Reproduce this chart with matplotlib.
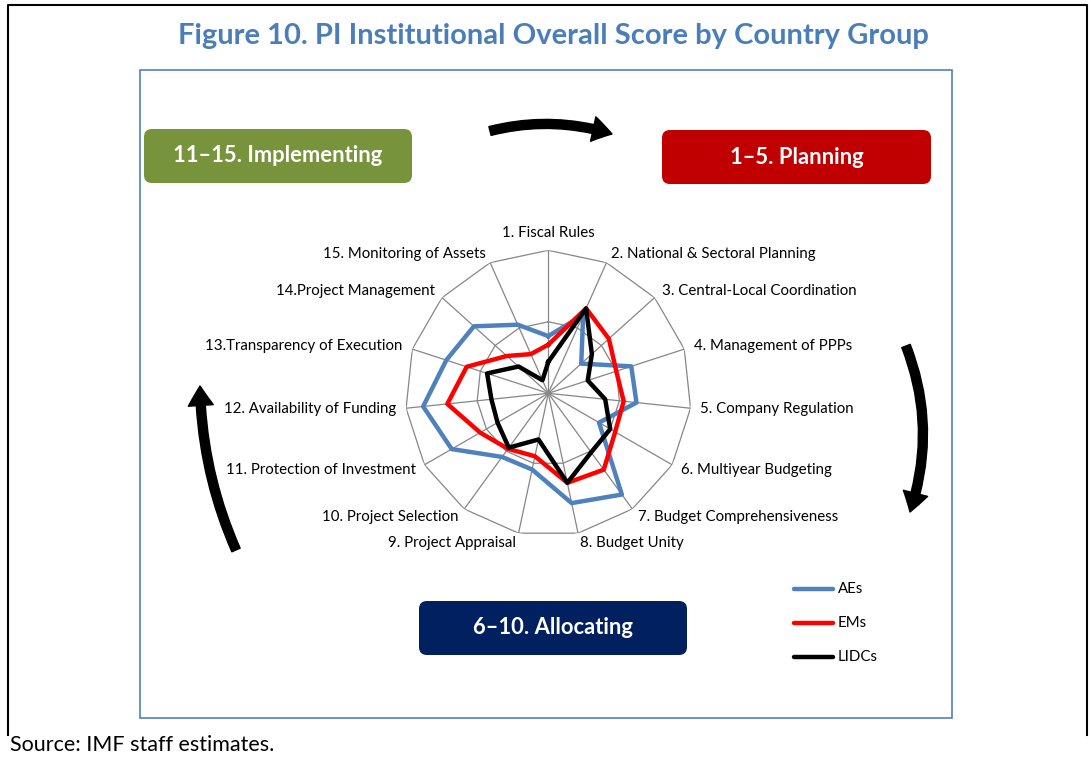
import numpy as np
import matplotlib
matplotlib.use("Agg")
import matplotlib.pyplot as plt
from matplotlib.patches import FancyBboxPatch, FancyArrowPatch

plt.rcParams['font.family'] = ['Lato', 'DejaVu Sans']

# ---- data (0..1 scale) ----
categories = [
    "1. Fiscal Rules", "2. National & Sectoral Planning", "3. Central-Local Coordination",
    "4. Management of PPPs", "5. Company Regulation", "6. Multiyear Budgeting",
    "7. Budget Comprehensiveness", "8. Budget Unity", "9. Project Appraisal",
    "10. Project Selection", "11. Protection of Investment", "12. Availability of Funding",
    "13.Transparency of Execution", "14.Project Management", "15. Monitoring of Assets",
]
aes = [0.40, 0.60, 0.31, 0.61, 0.62, 0.41, 0.875, 0.785, 0.545, 0.55, 0.78, 0.88, 0.75, 0.70, 0.525]
ems = [0.34, 0.65, 0.57, 0.50, 0.53, 0.54, 0.66, 0.64, 0.45, 0.48, 0.55, 0.71, 0.60, 0.39, 0.30]
lidcs = [0.22, 0.65, 0.41, 0.29, 0.40, 0.50, 0.51, 0.64, 0.33, 0.47, 0.41, 0.40, 0.45, 0.28, 0.10]
series_names = ["AEs", "EMs", "LIDCs"]
series_colors = ["#4f81bd", "#ff0000", "#000000"]
grid_levels = [0.5, 1.0]

stage_labels = ["11\u201315. Implementing", "1\u20135. Planning", "6\u201310. Allocating"]
stage_colors = ["#77933c", "#c00000", "#002060"]

W, H = 1091, 758
fig = plt.figure(figsize=(W / 100, H / 100), dpi=100)

# background axes in pixel coordinates
bg = fig.add_axes([0, 0, 1, 1])
bg.set_xlim(0, W)
bg.set_ylim(H, 0)
bg.axis("off")

# outer black frame (open at bottom) and inner blue frame
bg.plot([8, 8, 1087, 1087], [735, 5, 5, 735], color="black", lw=1.5)
bg.add_patch(plt.Rectangle((140, 70), 812, 648, fill=False, ec="#4f81bd", lw=1.2))

bg.text(553, 36, "Figure 10. PI Institutional Overall Score by Country Group",
        ha="center", va="center", fontsize=21, fontweight="bold", color="#4a7ebb")
bg.text(10, 745, "Source: IMF staff estimates.", ha="left", va="center", fontsize=15.5)

# stage boxes
boxes = [(144, 129, 268, 54), (662, 130, 269, 54), (419, 601, 268, 54)]
for (x, y, w, h), lab, col in zip(boxes, stage_labels, stage_colors):
    bg.add_patch(FancyBboxPatch((x, y), w, h, boxstyle="round,pad=0,rounding_size=8",
                                fc=col, ec="none"))
    bg.text(x + w / 2, y + h / 2, lab, ha="center", va="center", color="white",
            fontsize=15.8, fontweight="bold")

# curved arrows
astyle = "simple,head_length=14,head_width=18,tail_width=6.5"
for a, b, rad in [((490, 131), (612, 134), -0.14),
                  ((906, 346), (910, 512), -0.18),
                  ((236, 550), (200, 386), -0.1)]:
    bg.add_patch(FancyArrowPatch(a, b, connectionstyle=f"arc3,rad={rad}", arrowstyle=astyle,
                                 mutation_scale=1, color="black", shrinkA=0, shrinkB=0))

# radar axes
cx, cy, R = 548.3, 393.3, 143.0
ax = fig.add_axes([(cx - R) / W, (H - cy - R) / H, 2 * R / W, 2 * R / H], projection="polar")
ax.set_theta_offset(np.pi / 2)
ax.set_theta_direction(-1)
ax.set_ylim(0, 1)
ax.grid(False)
ax.spines["polar"].set_visible(False)
ax.set_xticks([])
ax.set_yticks([])
ax.patch.set_alpha(0)

n = len(categories)
theta = np.arange(n) * 2 * np.pi / n
theta_c = np.append(theta, theta[0])
for lev in grid_levels:
    ax.plot(theta_c, [lev] * (n + 1), color="#868686", lw=0.9)
for t in theta:
    ax.plot([t, t], [0, 1], color="#868686", lw=0.9)

for vals, name, col in zip([aes, ems, lidcs], series_names, series_colors):
    ax.plot(theta_c, vals + vals[:1], color=col, lw=3.2, label=name)

for t, lab in zip(theta, categories):
    s, c = np.sin(t), np.cos(t)
    off = 7.2
    if abs(s) < 0.01:
        ha, va = "center", "bottom"
    else:
        ha = "left" if s > 0 else "right"
        va = "center"
    ax.annotate(lab, xy=(t, 1.0), xytext=(off * s, off * c), textcoords="offset points",
                ha=ha, va=va, fontsize=10.8, annotation_clip=False)

# legend
for i, (name, col) in enumerate(zip(series_names, series_colors)):
    y = 589 + i * 34
    bg.plot([794, 833], [y, y], color=col, lw=3.2, solid_capstyle="round")
    bg.text(838, y, name, ha="left", va="center", fontsize=10.8)

fig.savefig("out.png", dpi=100)
